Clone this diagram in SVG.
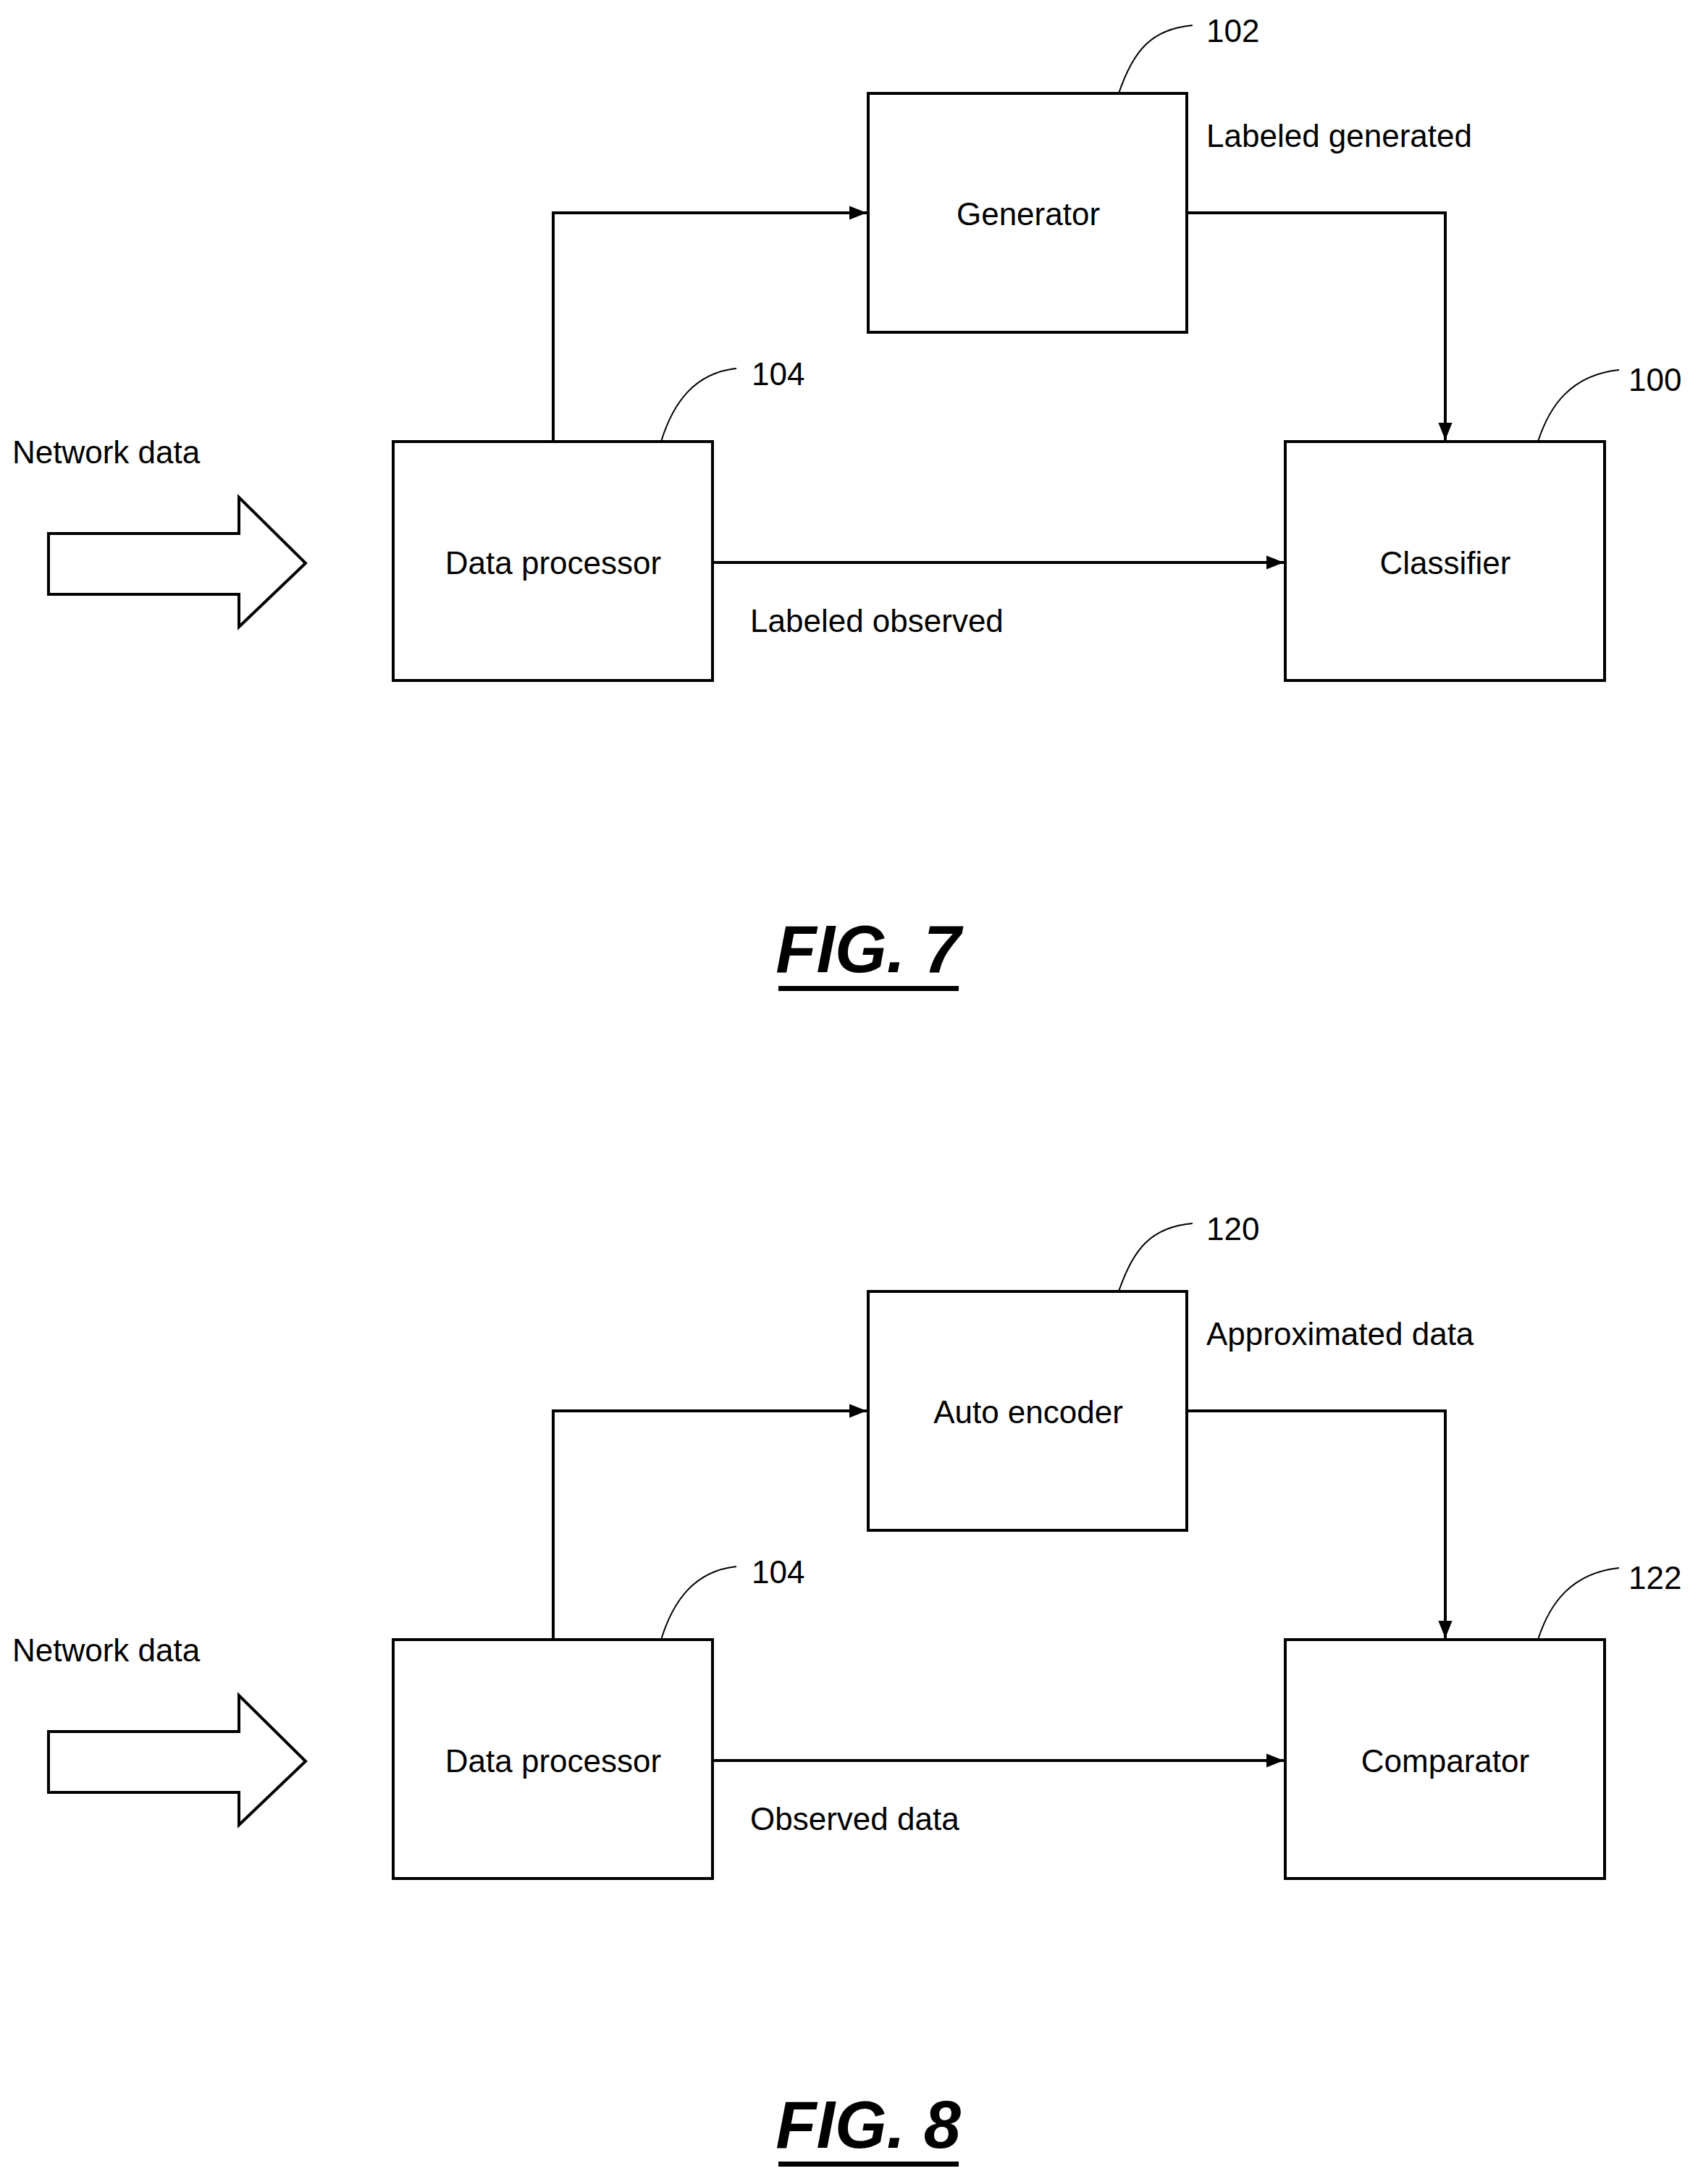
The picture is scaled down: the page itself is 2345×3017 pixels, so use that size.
<svg xmlns="http://www.w3.org/2000/svg" width="2345" height="3017" viewBox="0 0 2345 3017">
<defs>
<style>
.b{fill:#fff;stroke:#000;stroke-width:4}
.c{fill:none;stroke:#000;stroke-width:4}
.l{fill:none;stroke:#000;stroke-width:2}
text{font-family:"Liberation Sans",Arial,sans-serif;font-size:44px;fill:#000}
.m{text-anchor:middle}
.f{font-size:92px;font-weight:bold;font-style:italic;text-anchor:middle}
</style>
<marker id="a" viewBox="0 0 10 10" refX="10" refY="5" markerWidth="6" markerHeight="6" orient="auto" markerUnits="userSpaceOnUse"><path d="M0,0L10,5L0,10z"/></marker>
<marker id="ah" viewBox="0 0 10 10" refX="10" refY="5" markerWidth="24" markerHeight="24" orient="auto" markerUnits="userSpaceOnUse"><path d="M0,1L10,5L0,9z"/></marker>
</defs>
<rect width="2345" height="3017" fill="#fff"/>
<g id="fig7">
<g id="connectors7">
<path class="c" d="M764,610V294H1197" marker-end="url(#ah)"/>
<path class="c" d="M1639,294H1996V608" marker-end="url(#ah)"/>
<path class="c" d="M984,777H1773" marker-end="url(#ah)"/>
<path class="l" d="M1545,129C1565,70 1590,40 1647,35"/>
<path class="l" d="M913,610C930,555 960,515 1017,509"/>
<path class="l" d="M2124,610C2140,560 2170,518 2236,511"/>
</g>
<g id="input7"><path class="b" d="M67,737H330V687L422,778L330,866V821H67Z"/><text x="17" y="640">Network data</text></g>
<g id="generator"><rect class="b" x="1199" y="129" width="440" height="330"/><text class="m" x="1420" y="311">Generator</text><text x="1666" y="58">102</text></g>
<g id="dataproc7"><rect class="b" x="543" y="610" width="441" height="330"/><text class="m" x="764" y="793">Data processor</text><text x="1038" y="532">104</text></g>
<g id="classifier"><rect class="b" x="1775" y="610" width="441" height="330"/><text class="m" x="1996" y="793">Classifier</text><text x="2249" y="540">100</text></g>
<text x="1666" y="203">Labeled generated</text>
<text x="1036" y="873">Labeled observed</text>
<text class="f" x="1199" y="1343">FIG. 7</text>
<rect x="1075" y="1362" width="249" height="7"/>
</g>
<g id="fig8" transform="translate(0,1655)">
<g id="connectors8">
<path class="c" d="M764,610V294H1197" marker-end="url(#ah)"/>
<path class="c" d="M1639,294H1996V608" marker-end="url(#ah)"/>
<path class="c" d="M984,777H1773" marker-end="url(#ah)"/>
<path class="l" d="M1545,129C1565,70 1590,40 1647,35"/>
<path class="l" d="M913,610C930,555 960,515 1017,509"/>
<path class="l" d="M2124,610C2140,560 2170,518 2236,511"/>
</g>
<g id="input8"><path class="b" d="M67,737H330V687L422,778L330,866V821H67Z"/><text x="17" y="640">Network data</text></g>
<g id="autoencoder"><rect class="b" x="1199" y="129" width="440" height="330"/><text class="m" x="1420" y="311">Auto encoder</text><text x="1666" y="58">120</text></g>
<g id="dataproc8"><rect class="b" x="543" y="610" width="441" height="330"/><text class="m" x="764" y="793">Data processor</text><text x="1038" y="532">104</text></g>
<g id="comparator"><rect class="b" x="1775" y="610" width="441" height="330"/><text class="m" x="1996" y="793">Comparator</text><text x="2249" y="540">122</text></g>
<text x="1666" y="203">Approximated data</text>
<text x="1036" y="873">Observed data</text>
<text class="f" x="1199" y="1312">FIG. 8</text>
<rect x="1075" y="1331" width="249" height="7"/>
</g>
</svg>
